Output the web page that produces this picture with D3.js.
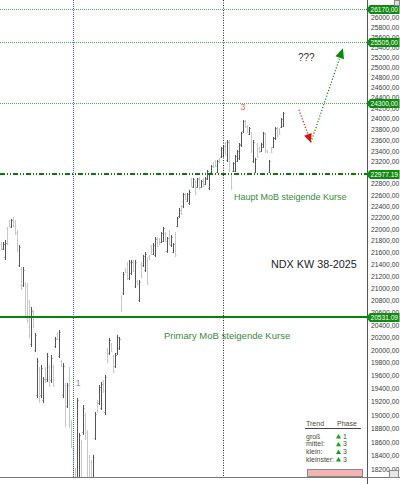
<!DOCTYPE html>
<html><head><meta charset="utf-8">
<script src="https://cdn.jsdelivr.net/npm/d3@7"></script>
<style>body{margin:0;background:#fff}svg{display:block}</style>
</head><body><svg id="c" width="400" height="484"></svg>
<script>
// ---- data (NDX daily bars) ----
const highs=[21777,21777,21811,22036,22158,22176,22210,22158,21984,21725,
21352,21352,21101,21084,20803,20689,20640,20269,19873,19733,
19764,19578,19733,19952,19764,19921,19764,20206,20285,20317,
19842,19795,19486,19486,19733,18925,18527,18223,19256,18733,
18629,19150,19030,18777,18410,18338,18410,19045,19226,19455,
19501,19532,19609,20031,20190,20110,19921,19952,20238,20206,
20885,21268,21336,21436,21470,21470,21470,21470,21134,21134,
21436,21555,21606,21521,21555,21725,21760,21863,21863,21846,
21949,22036,21949,21863,21984,21898,21760,21949,22210,22369,
22422,22636,22636,22636,22689,22904,22904,22868,22904,22922,
22868,22904,22922,23049,22995,23140,23195,23232,23232,23269,
23471,23508,23564,23601,23601,22959,23195,23324,23416,23545,
23751,23976,23976,23882,23844,23751,23601,23269,23545,23471,
23545,23751,23732,23416,23232,23471,23657,23844,23844,23826,
24014,24128];
const lows=[21640,21640,21470,21725,22036,22019,22036,21898,21606,21352,
20968,21018,20527,20430,20190,20047,20349,19968,19256,19181,
19256,19181,19486,19501,19424,19486,19424,20031,20158,19873,
19733,19256,18821,19105,18806,18512,17839,17630,17700,17909,
17909,18703,18629,17980,17937,17980,18051,18629,19030,19150,
19075,19332,19000,19795,19921,19968,19640,19717,19921,19999,
20608,20885,21251,21134,21134,21218,21268,21001,21051,20770,
21168,21352,21268,21051,21470,21555,21555,21521,21691,21725,
21760,21777,21777,21589,21725,21691,21589,21521,22036,22193,
22246,22369,22511,22476,22422,22743,22725,22600,22725,22689,
22725,22743,22779,22868,22689,22995,23085,23104,22995,23177,
23269,23287,23324,23195,23013,22689,23013,23013,23195,23232,
23471,23732,23826,23732,23694,23361,23177,22995,23269,23361,
23379,23453,23361,23361,22995,23361,23453,23601,23657,23694,
23826,23844];
const opens=[21750,21665,21520,22010,22140,22040,22180,22130,21950,21390,
21320,21050,21060,21040,20770,20100,20610,20000,19300,19700,
19300,19220,19700,19540,19730,19530,19740,20060,20260,19910,
19830,19300,19450,19140,19690,18900,18500,18200,17740,17950,
18600,18740,19000,18740,18380,18310,18080,18660,19200,19180,
19110,19510,19040,20000,19950,20090,19900,19750,19950,20030,
20860,20920,21320,21410,21170,21250,21450,21040,21120,20800,
21410,21380,21300,21490,21540,21700,21580,21550,21840,21830,
21780,21800,21930,21620,21960,21720,21610,21920,22060,22220,
22400,22400,22620,22500,22450,22880,22750,22840,22750,22900,
22750,22880,22800,22890,22720,23010,23180,23210,23020,23250,
23290,23310,23540,23230,23580,22930,23040,23040,23220,23260,
23500,23760,23960,23860,23720,23730,23210,23020,23520,23450,
23400,23480,23710,23410,23020,23450,23480,23630,23820,23810,
23850,23870];
const closes=[21670,21750,21760,21760,22060,22150,22060,21930,21640,21690,
21000,21300,20570,20480,20230,20630,20380,20230,19820,19230,
19720,19540,19510,19910,19460,19880,19450,20180,20180,20280,
19750,19750,18860,19450,18850,18540,17880,17700,19220,18700,
17950,19110,18660,18020,17980,18010,18380,19010,19060,19420,
19470,19360,19570,19830,20160,19990,19670,19920,20210,20180,
20640,21230,21270,21160,21440,21440,21290,21440,21070,21100,
21190,21530,21580,21090,21490,21580,21730,21830,21710,21740,
21930,22010,21800,21840,21750,21870,21740,21550,22190,22340,
22270,22610,22530,22620,22660,22760,22880,22630,22880,22710,
22850,22760,22900,23030,22970,23120,23100,23120,23210,23190,
23450,23490,23350,23570,23050,22720,23170,23300,23390,23520,
23730,23950,23850,23750,23820,23390,23570,23250,23290,23380,
23530,23730,23390,23370,23210,23380,23640,23820,23680,23710,
23990,24110];

const yTicks=[18200,18400,18600,18800,19000,19200,19400,19600,19800,20000,
20200,20400,20600,20800,21000,21200,21400,21600,21800,22000,
22200,22400,22600,22800,23000,23200,23400,23600,23800,24000,
24200,24400,24600,24800,25000,25200,25400,25600,25800,26000];

const levelValues=[26170,25505,24300,22977.19,20531.09];
const levelLabels=["26170,00","25505,00","24300,00","22977.19","20531.09"];

const vLineBars=[36.1,111.1];           // time markers (bar index)
const redArrow=[[149,24170],[155,23550]];   // projected move down
const greenArrow=[[155,23560],[171,25370]]; // projected move up
const wave3=[121,23976];                // wave label "3" over bar
const wave1=[38.5,19440];               // wave label "1"

const legendHead=["Trend","Phase"];
const legendRows=["groß","mittel:","klein:","kleinster:"];
const legendPhase=["1","3","3","3"];

// ---- chart ----
const plotR=367, plotB=477;
const svg=d3.select("#c");
const x=d3.scaleLinear().domain([0,141]).range([1.3,283]);
const y=d3.scaleLog().domain([18093,26356]).range([plotB,0]);
const px=i=>Math.round(x(i))+0.5;

svg.append("defs").append("clipPath").attr("id","pc")
  .append("rect").attr("x",0).attr("y",0).attr("width",plotR).attr("height",plotB);

const g=svg.append("g").attr("clip-path","url(#pc)");

// bars
const idx=d3.range(highs.length);
const col=i=>closes[i]>=opens[i]?"#555":"#c8c8c8";
g.selectAll("line.bar").data(idx).join("line").attr("class","bar")
  .attr("x1",px).attr("x2",px)
  .attr("y1",i=>y(highs[i])).attr("y2",i=>y(lows[i]))
  .attr("stroke",col).attr("stroke-width",1);
g.selectAll("rect.op").data(idx).join("rect").attr("class","op")
  .attr("x",i=>px(i)-1.5).attr("y",i=>Math.round(y(opens[i])))
  .attr("width",1).attr("height",1).attr("fill",col).attr("opacity",0.45);
g.selectAll("rect.cl").data(idx).join("rect").attr("class","cl")
  .attr("x",i=>px(i)+0.5).attr("y",i=>Math.round(y(closes[i])))
  .attr("width",1).attr("height",1).attr("fill",col).attr("opacity",0.45);

// vertical time lines
const vStyles=[{c:"#2f5cff",d:"1,1"},{c:"#222",d:"1,1.5"}];
vLineBars.forEach((b,k)=>{
  const xx=Math.floor(x(b))+0.5;
  g.append("line").attr("x1",xx).attr("x2",xx).attr("y1",0).attr("y2",plotB)
   .attr("stroke",vStyles[k].c).attr("stroke-dasharray",vStyles[k].d).attr("stroke-width",1);
});

// horizontal levels
const lvStyles=[
 {c:"#4cae4c",w:1,d:"1,1"},{c:"#4cae4c",w:1,d:"1,1"},{c:"#4cae4c",w:1,d:"1,1"},
 {c:"#0a7a0a",w:2,d:"5,2,1,2,1,2"},{c:"#0a800a",w:2,d:null}];
levelValues.forEach((v,k)=>{
  const yy=Math.round(y(v))+(lvStyles[k].w===2?0:0.5);
  const l=g.append("line").attr("x1",0).attr("x2",plotR).attr("y1",yy).attr("y2",yy)
   .attr("stroke",lvStyles[k].c).attr("stroke-width",lvStyles[k].w);
  if(lvStyles[k].d) l.attr("stroke-dasharray",lvStyles[k].d);
});

// arrows
function arrow(pts,color,hl,hw){
  const p0=[x(pts[0][0]),y(pts[0][1])], p1=[x(pts[1][0]),y(pts[1][1])];
  const dx=p1[0]-p0[0], dy=p1[1]-p0[1], L=Math.hypot(dx,dy), ux=dx/L, uy=dy/L;
  const bx=p1[0]-ux*hl, by=p1[1]-uy*hl;
  g.append("line").attr("x1",p0[0]).attr("y1",p0[1]).attr("x2",bx).attr("y2",by)
   .attr("stroke",color).attr("stroke-width",1.2).attr("stroke-dasharray","1.2,1.8");
  g.append("path").attr("d",`M${p1[0]},${p1[1]}L${bx-uy*hw/2},${by+ux*hw/2}L${bx+uy*hw/2},${by-ux*hw/2}Z`)
   .attr("fill",color);
}
arrow(redArrow,"#e01010",9,8);
arrow(greenArrow,"#0a8a0a",10,9);

// annotations
const font="Liberation Sans, Arial, sans-serif";
g.append("text").attr("x",x(wave3[0])).attr("y",y(wave3[1])-10).attr("text-anchor","middle")
 .attr("font-family",font).attr("font-size",9).attr("fill","#f06060").text("3");
g.append("text").attr("x",x(wave1[0])).attr("y",y(wave1[1])).attr("text-anchor","middle")
 .attr("font-family",font).attr("font-size",8.5).attr("fill","#8a80e8").text("1");
g.append("text").attr("x",298).attr("y",61).attr("font-family",font).attr("font-size",10)
 .attr("fill","#333").text("???");
g.append("text").attr("x",234).attr("y",200).attr("font-family",font).attr("font-size",9)
 .attr("fill","#3a8a3a").text("Haupt MoB steigende Kurse");
g.append("text").attr("x",271).attr("y",268).attr("font-family",font).attr("font-size",10.8)
 .attr("fill","#222").text("NDX KW 38-2025");
g.append("text").attr("x",164).attr("y",339).attr("font-family",font).attr("font-size",9.5)
 .attr("fill","#3a8a3a").text("Primary MoB steigende Kurse");

// legend
const lg=svg.append("g").attr("font-family",font).attr("font-size",7).attr("fill","#4a4a3a");
lg.append("text").attr("x",306).attr("y",426).text(legendHead[0]);
lg.append("text").attr("x",337).attr("y",426).text(legendHead[1]);
lg.append("line").attr("x1",305).attr("x2",361).attr("y1",428.5).attr("y2",428.5).attr("stroke","#444");
legendRows.forEach((r,k)=>{
  const yy=438.5+k*7.7;
  lg.append("text").attr("x",306).attr("y",yy).text(r);
  lg.append("path").attr("d",`M${338.5},${yy-4.5}L${341},${yy}L${336},${yy}Z`).attr("fill","#1aa01a");
  lg.append("text").attr("x",343).attr("y",yy).text(legendPhase[k]);
});
lg.append("rect").attr("x",307.5).attr("y",469.5).attr("width",55).attr("height",7)
  .attr("fill","#f4b4b4").attr("stroke","#888");

// frame
svg.append("line").attr("x1",plotR+0.5).attr("x2",plotR+0.5).attr("y1",0).attr("y2",484).attr("stroke","#555");
svg.append("line").attr("x1",0).attr("x2",400).attr("y1",plotB+0.5).attr("y2",plotB+0.5).attr("stroke","#777");

// right axis
const ax=svg.append("g").attr("transform",`translate(${plotR+1},0)`)
  .call(d3.axisRight(y).tickValues(yTicks).tickSize(0).tickPadding(3)
     .tickFormat(d=>d3.format(".2f")(d).replace(".",",")));
ax.select(".domain").remove();
ax.selectAll("text").attr("font-family",font).attr("font-size",6.8).attr("fill","#3a3a3a");

// level markers
levelValues.forEach((v,k)=>{
  const cy=Math.round(y(v))+0.5;
  svg.append("path").attr("d",`M${plotR-1},${cy}L${plotR+3},${cy-4.5}L399.5,${cy-4.5}L399.5,${cy+4.5}L${plotR+3},${cy+4.5}Z`)
    .attr("fill","#108a10");
  svg.append("text").attr("x",plotR+3.5).attr("y",cy+2.5).attr("font-family",font).attr("font-size",6.6)
    .attr("fill","#fff").text(levelLabels[k]);
});

// small window icons
svg.append("rect").attr("x",394.5).attr("y",0.5).attr("width",5).attr("height",5).attr("fill","#ddd").attr("stroke","#888");
svg.append("rect").attr("x",389.5).attr("y",470.5).attr("width",9).attr("height",7).attr("fill","#e8e8e8").attr("stroke","#888");
</script></body></html>
